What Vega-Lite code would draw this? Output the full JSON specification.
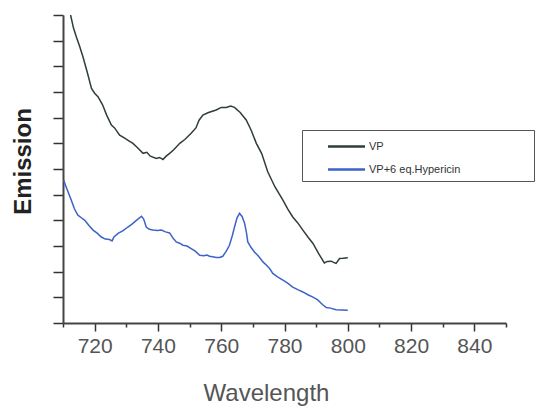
{
  "$schema": "https://vega.github.io/schema/vega-lite/v6.json",
  "width": 443,
  "height": 308,
  "autosize": "none",
  "padding": {"left": 63, "top": 15, "right": 32, "bottom": 83},
  "background": "white",
  "config": {
    "font": "Liberation Sans",
    "view": {"stroke": null}
  },
  "datasets": {
    "spectra": [
      {"series": "VP", "wavelength": 712.4, "emission": 12.0},
      {"series": "VP", "wavelength": 713.3, "emission": 11.5},
      {"series": "VP", "wavelength": 714.2, "emission": 11.15},
      {"series": "VP", "wavelength": 715.2, "emission": 10.8},
      {"series": "VP", "wavelength": 716.3, "emission": 10.37},
      {"series": "VP", "wavelength": 717.6, "emission": 9.8},
      {"series": "VP", "wavelength": 719.0, "emission": 9.14},
      {"series": "VP", "wavelength": 720.0, "emission": 8.95},
      {"series": "VP", "wavelength": 721.1, "emission": 8.81},
      {"series": "VP", "wavelength": 722.5, "emission": 8.5},
      {"series": "VP", "wavelength": 723.8, "emission": 8.1},
      {"series": "VP", "wavelength": 725.3, "emission": 7.71},
      {"series": "VP", "wavelength": 726.3, "emission": 7.6},
      {"series": "VP", "wavelength": 727.9, "emission": 7.32},
      {"series": "VP", "wavelength": 729.5, "emission": 7.2},
      {"series": "VP", "wavelength": 730.8, "emission": 7.1},
      {"series": "VP", "wavelength": 732.1, "emission": 7.0},
      {"series": "VP", "wavelength": 733.4, "emission": 6.85},
      {"series": "VP", "wavelength": 735.3, "emission": 6.61},
      {"series": "VP", "wavelength": 736.5, "emission": 6.65},
      {"series": "VP", "wavelength": 737.6, "emission": 6.5},
      {"series": "VP", "wavelength": 739.5, "emission": 6.41},
      {"series": "VP", "wavelength": 740.5, "emission": 6.45},
      {"series": "VP", "wavelength": 741.6, "emission": 6.37},
      {"series": "VP", "wavelength": 742.6, "emission": 6.5},
      {"series": "VP", "wavelength": 743.7, "emission": 6.61},
      {"series": "VP", "wavelength": 745.0, "emission": 6.75},
      {"series": "VP", "wavelength": 746.9, "emission": 7.0},
      {"series": "VP", "wavelength": 748.5, "emission": 7.15},
      {"series": "VP", "wavelength": 750.5, "emission": 7.39},
      {"series": "VP", "wavelength": 752.0, "emission": 7.6},
      {"series": "VP", "wavelength": 753.0, "emission": 7.9},
      {"series": "VP", "wavelength": 754.2, "emission": 8.1},
      {"series": "VP", "wavelength": 756.0, "emission": 8.2},
      {"series": "VP", "wavelength": 758.4, "emission": 8.3},
      {"series": "VP", "wavelength": 760.0, "emission": 8.4},
      {"series": "VP", "wavelength": 761.6, "emission": 8.4},
      {"series": "VP", "wavelength": 763.0, "emission": 8.45},
      {"series": "VP", "wavelength": 764.2, "emission": 8.4},
      {"series": "VP", "wavelength": 766.0, "emission": 8.2},
      {"series": "VP", "wavelength": 767.9, "emission": 7.91},
      {"series": "VP", "wavelength": 769.5, "emission": 7.5},
      {"series": "VP", "wavelength": 771.1, "emission": 7.0},
      {"series": "VP", "wavelength": 772.8, "emission": 6.6},
      {"series": "VP", "wavelength": 774.7, "emission": 5.89},
      {"series": "VP", "wavelength": 777.0, "emission": 5.3},
      {"series": "VP", "wavelength": 779.5, "emission": 4.79},
      {"series": "VP", "wavelength": 781.0, "emission": 4.45},
      {"series": "VP", "wavelength": 782.6, "emission": 4.13},
      {"series": "VP", "wavelength": 784.2, "emission": 3.9},
      {"series": "VP", "wavelength": 785.8, "emission": 3.62},
      {"series": "VP", "wavelength": 787.4, "emission": 3.35},
      {"series": "VP", "wavelength": 789.0, "emission": 3.1},
      {"series": "VP", "wavelength": 790.8, "emission": 2.7},
      {"series": "VP", "wavelength": 792.6, "emission": 2.34},
      {"series": "VP", "wavelength": 793.5, "emission": 2.4},
      {"series": "VP", "wavelength": 794.8, "emission": 2.41},
      {"series": "VP", "wavelength": 795.5, "emission": 2.36},
      {"series": "VP", "wavelength": 796.3, "emission": 2.32},
      {"series": "VP", "wavelength": 797.4, "emission": 2.51},
      {"series": "VP", "wavelength": 798.5, "emission": 2.52},
      {"series": "VP", "wavelength": 800.0, "emission": 2.54},
      {"series": "VP+6 eq.Hypericin", "wavelength": 710.2, "emission": 5.56},
      {"series": "VP+6 eq.Hypericin", "wavelength": 711.3, "emission": 5.2},
      {"series": "VP+6 eq.Hypericin", "wavelength": 712.6, "emission": 4.79},
      {"series": "VP+6 eq.Hypericin", "wavelength": 713.6, "emission": 4.45},
      {"series": "VP+6 eq.Hypericin", "wavelength": 714.7, "emission": 4.2},
      {"series": "VP+6 eq.Hypericin", "wavelength": 715.8, "emission": 4.1},
      {"series": "VP+6 eq.Hypericin", "wavelength": 716.9, "emission": 4.0},
      {"series": "VP+6 eq.Hypericin", "wavelength": 718.2, "emission": 3.8},
      {"series": "VP+6 eq.Hypericin", "wavelength": 719.5, "emission": 3.62},
      {"series": "VP+6 eq.Hypericin", "wavelength": 720.8, "emission": 3.5},
      {"series": "VP+6 eq.Hypericin", "wavelength": 722.1, "emission": 3.35},
      {"series": "VP+6 eq.Hypericin", "wavelength": 723.4, "emission": 3.27},
      {"series": "VP+6 eq.Hypericin", "wavelength": 724.7, "emission": 3.25},
      {"series": "VP+6 eq.Hypericin", "wavelength": 725.5, "emission": 3.2},
      {"series": "VP+6 eq.Hypericin", "wavelength": 726.1, "emission": 3.35},
      {"series": "VP+6 eq.Hypericin", "wavelength": 727.4, "emission": 3.49},
      {"series": "VP+6 eq.Hypericin", "wavelength": 729.0, "emission": 3.6},
      {"series": "VP+6 eq.Hypericin", "wavelength": 730.5, "emission": 3.74},
      {"series": "VP+6 eq.Hypericin", "wavelength": 731.8, "emission": 3.85},
      {"series": "VP+6 eq.Hypericin", "wavelength": 733.2, "emission": 4.0},
      {"series": "VP+6 eq.Hypericin", "wavelength": 734.8, "emission": 4.16},
      {"series": "VP+6 eq.Hypericin", "wavelength": 735.5, "emission": 4.05},
      {"series": "VP+6 eq.Hypericin", "wavelength": 736.3, "emission": 3.74},
      {"series": "VP+6 eq.Hypericin", "wavelength": 737.3, "emission": 3.65},
      {"series": "VP+6 eq.Hypericin", "wavelength": 738.4, "emission": 3.62},
      {"series": "VP+6 eq.Hypericin", "wavelength": 739.8, "emission": 3.6},
      {"series": "VP+6 eq.Hypericin", "wavelength": 741.1, "emission": 3.62},
      {"series": "VP+6 eq.Hypericin", "wavelength": 742.4, "emission": 3.55},
      {"series": "VP+6 eq.Hypericin", "wavelength": 743.7, "emission": 3.51},
      {"series": "VP+6 eq.Hypericin", "wavelength": 744.8, "emission": 3.3},
      {"series": "VP+6 eq.Hypericin", "wavelength": 745.8, "emission": 3.16},
      {"series": "VP+6 eq.Hypericin", "wavelength": 747.0, "emission": 3.1},
      {"series": "VP+6 eq.Hypericin", "wavelength": 747.9, "emission": 3.03},
      {"series": "VP+6 eq.Hypericin", "wavelength": 749.2, "emission": 3.0},
      {"series": "VP+6 eq.Hypericin", "wavelength": 750.5, "emission": 2.9},
      {"series": "VP+6 eq.Hypericin", "wavelength": 751.8, "emission": 2.8},
      {"series": "VP+6 eq.Hypericin", "wavelength": 753.2, "emission": 2.64},
      {"series": "VP+6 eq.Hypericin", "wavelength": 754.5, "emission": 2.62},
      {"series": "VP+6 eq.Hypericin", "wavelength": 755.5, "emission": 2.65},
      {"series": "VP+6 eq.Hypericin", "wavelength": 756.3, "emission": 2.6},
      {"series": "VP+6 eq.Hypericin", "wavelength": 757.3, "emission": 2.58},
      {"series": "VP+6 eq.Hypericin", "wavelength": 758.4, "emission": 2.55},
      {"series": "VP+6 eq.Hypericin", "wavelength": 759.5, "emission": 2.55},
      {"series": "VP+6 eq.Hypericin", "wavelength": 760.5, "emission": 2.6},
      {"series": "VP+6 eq.Hypericin", "wavelength": 761.6, "emission": 2.8},
      {"series": "VP+6 eq.Hypericin", "wavelength": 762.6, "emission": 3.03},
      {"series": "VP+6 eq.Hypericin", "wavelength": 763.5, "emission": 3.4},
      {"series": "VP+6 eq.Hypericin", "wavelength": 764.2, "emission": 3.74},
      {"series": "VP+6 eq.Hypericin", "wavelength": 765.0, "emission": 4.1},
      {"series": "VP+6 eq.Hypericin", "wavelength": 765.8, "emission": 4.27},
      {"series": "VP+6 eq.Hypericin", "wavelength": 766.6, "emission": 4.15},
      {"series": "VP+6 eq.Hypericin", "wavelength": 767.4, "emission": 3.88},
      {"series": "VP+6 eq.Hypericin", "wavelength": 768.0, "emission": 3.5},
      {"series": "VP+6 eq.Hypericin", "wavelength": 768.4, "emission": 3.16},
      {"series": "VP+6 eq.Hypericin", "wavelength": 769.4, "emission": 2.95},
      {"series": "VP+6 eq.Hypericin", "wavelength": 770.5, "emission": 2.77},
      {"series": "VP+6 eq.Hypericin", "wavelength": 771.8, "emission": 2.6},
      {"series": "VP+6 eq.Hypericin", "wavelength": 773.2, "emission": 2.38},
      {"series": "VP+6 eq.Hypericin", "wavelength": 774.3, "emission": 2.25},
      {"series": "VP+6 eq.Hypericin", "wavelength": 775.3, "emission": 2.12},
      {"series": "VP+6 eq.Hypericin", "wavelength": 776.3, "emission": 1.93},
      {"series": "VP+6 eq.Hypericin", "wavelength": 777.8, "emission": 1.8},
      {"series": "VP+6 eq.Hypericin", "wavelength": 779.5, "emission": 1.67},
      {"series": "VP+6 eq.Hypericin", "wavelength": 781.0, "emission": 1.55},
      {"series": "VP+6 eq.Hypericin", "wavelength": 782.6, "emission": 1.4},
      {"series": "VP+6 eq.Hypericin", "wavelength": 784.2, "emission": 1.3},
      {"series": "VP+6 eq.Hypericin", "wavelength": 785.8, "emission": 1.21},
      {"series": "VP+6 eq.Hypericin", "wavelength": 787.4, "emission": 1.1},
      {"series": "VP+6 eq.Hypericin", "wavelength": 789.0, "emission": 1.01},
      {"series": "VP+6 eq.Hypericin", "wavelength": 790.5, "emission": 0.9},
      {"series": "VP+6 eq.Hypericin", "wavelength": 792.0, "emission": 0.72},
      {"series": "VP+6 eq.Hypericin", "wavelength": 793.2, "emission": 0.6},
      {"series": "VP+6 eq.Hypericin", "wavelength": 794.5, "emission": 0.58},
      {"series": "VP+6 eq.Hypericin", "wavelength": 796.3, "emission": 0.52},
      {"series": "VP+6 eq.Hypericin", "wavelength": 798.0, "emission": 0.51},
      {"series": "VP+6 eq.Hypericin", "wavelength": 800.0, "emission": 0.5}
    ]
  },
  "data": {"name": "spectra"},
  "encoding": {
    "y": {
      "field": "emission", "type": "quantitative",
      "scale": {"domain": [0, 12], "nice": false, "zero": false},
      "axis": {
        "values": [0, 1, 2, 3, 4, 5, 6, 7, 8, 9, 10, 11, 12],
        "labels": false, "grid": false, "tickSize": 10, "tickColor": "#333",
        "tickWidth": 1.5, "domainColor": "#444", "domainWidth": 2,
        "title": "Emission", "titleFontSize": 24, "titleFontWeight": "bold",
        "titleColor": "#222", "titleAngle": -90, "titleX": -33, "titleY": 146,
        "titleAlign": "center", "titleBaseline": "alphabetic"
      }
    }
  },
  "layer": [
    {
      "mark": {"type": "line", "opacity": 0},
      "encoding": {
        "x": {
          "field": "wavelength", "type": "quantitative",
          "scale": {"domain": [710, 850], "nice": false, "zero": false},
          "axis": {
            "orient": "bottom", "values": [710, 730, 750, 770, 790, 810, 830, 850],
            "labels": false, "domain": false, "title": null, "grid": false,
            "tickSize": 4, "tickColor": "#333", "tickWidth": 1.5
          }
        }
      }
    },
    {
      "mark": {"type": "line", "strokeWidth": 1.5, "clip": true, "interpolate": "linear"},
      "encoding": {
        "x": {
          "field": "wavelength", "type": "quantitative",
          "scale": {"domain": [710, 850], "nice": false, "zero": false},
          "axis": {
            "orient": "bottom", "values": [720, 740, 760, 780, 800, 820, 840],
            "grid": false, "tickSize": 8, "tickColor": "#333", "tickWidth": 1.5,
            "domainColor": "#444", "domainWidth": 2,
            "labelFontSize": 21, "labelColor": "#555", "labelPadding": 4,
            "title": "Wavelength", "titleFontSize": 24, "titleFontWeight": "normal",
            "titleColor": "#555", "titleX": 203, "titleY": 77,
            "titleAlign": "center", "titleBaseline": "alphabetic"
          }
        },
        "color": {
          "field": "series", "type": "nominal",
          "scale": {"domain": ["VP", "VP+6 eq.Hypericin"], "range": ["#2f3d3b", "#3d62c8"]},
          "legend": {
            "orient": "none", "legendX": 239, "legendY": 115,
            "title": null, "strokeColor": "#555",
            "padding": 6, "symbolOffset": 28, "symbolType": "M-2,0H2",
            "symbolSize": 342, "symbolStrokeWidth": 2.5, "labelOffset": 12,
            "labelFontSize": 11, "labelColor": "#333", "rowPadding": 7, "labelLimit": 300,
            "labelExpr": "datum.label == 'VP' ? datum.label : datum.label + '\u00a0\u00a0\u00a0\u00a0\u00a0\u00a0\u00a0\u00a0\u00a0\u00a0\u00a0\u00a0\u00a0\u00a0\u00a0\u00a0\u00a0\u00a0\u00a0\u00a0\u00a0\u00a0\u200b'"
          }
        }
      }
    }
  ],
  "resolve": {"axis": {"x": "independent"}}
}
